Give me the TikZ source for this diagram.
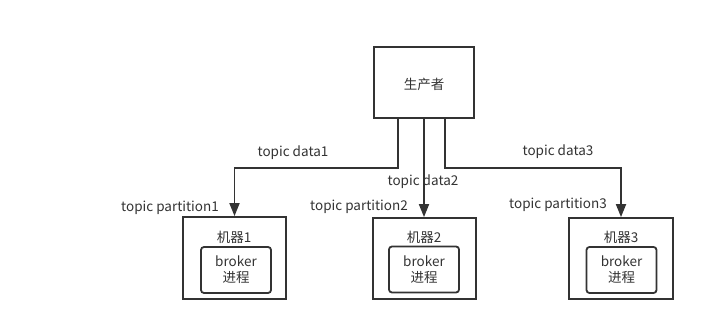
\documentclass[tikz,border=0pt]{standalone}
\usepackage{fontspec}
\setmainfont{Noto Sans CJK SC}
\usetikzlibrary{arrows.meta}
\definecolor{ink}{HTML}{333333}
\tikzset{
  box/.style={draw=ink, line width=1.8pt, rectangle, inner sep=0pt},
  inbox/.style={draw=ink, line width=1.8pt, rectangle, rounded corners=3pt, inner sep=0pt, minimum width=70pt, minimum height=46pt, align=center, font=\fontsize{13.5}{16}\selectfont, text=ink},
  lbl/.style={font=\fontsize{13.5}{16}\selectfont, text=ink, inner sep=0pt, yshift=-1.5pt},
  arr/.style={draw=ink, line width=1.8pt, -{Triangle[length=13pt,width=10pt]}},
}
\begin{document}
\begin{tikzpicture}[x=1pt,y=-1pt]
\useasboundingbox (0,0) rectangle (712,331);
\node[box, minimum width=100pt, minimum height=71pt] (prod) at (424,82.5) {};
\node[lbl] (prodt) at (424,82.5) {生产者};
\node[box, minimum width=103pt, minimum height=82pt] (m1) at (234.5,258) {};
\node[box, minimum width=103pt, minimum height=81pt] (m2) at (424.5,258.5) {};
\node[box, minimum width=104pt, minimum height=81pt] (m3) at (621,258.5) {};
\node[lbl] (m1t) at (234,236) {机器1};
\node[lbl] (m2t) at (424,236) {机器2};
\node[lbl] (m3t) at (621,236) {机器3};
\node[inbox] (b1) at (236,270) {broker\\进程};
\node[inbox] (b2) at (424,269.5) {broker\\进程};
\node[inbox] (b3) at (621.5,270) {broker\\进程};
\draw[arr] ([xshift=-26pt]prod.south) -- ++(0,49) -| (m1.north);
\draw[arr] (prod.south) -- (prod.south |- m2.north);
\draw[arr] ([xshift=21pt]prod.south) -- ++(0,49) -| (m3.north);
\node[lbl] (d1) at (293,151) {topic data1};
\node[lbl] (d2) at (423,180.5) {topic data2};
\node[lbl] (d3) at (558,150.5) {topic data3};
\node[lbl] (p1) at (170,206) {topic partition1};
\node[lbl] (p2) at (359,205.5) {topic partition2};
\node[lbl] (p3) at (558,203.5) {topic partition3};
\end{tikzpicture}
\end{document}
